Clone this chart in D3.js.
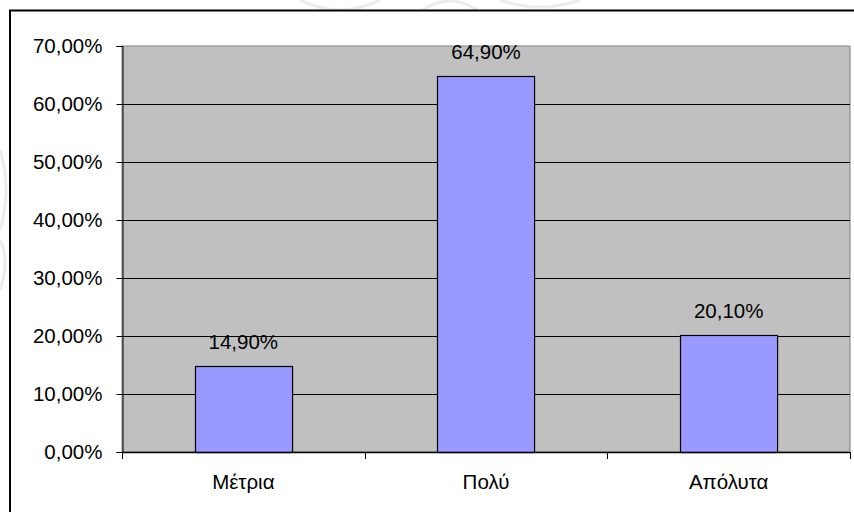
<!DOCTYPE html>
<html>
<head>
<meta charset="utf-8">
<script src="https://cdn.jsdelivr.net/npm/d3@7"></script>
<style>
  body { margin: 0; background: #fff; }
  text { font-family: "Liberation Sans", Arial, sans-serif; fill: #000; }
</style>
</head>
<body>
<div id="draw"></div>
<script>
// chart data
const categories = ["Μέτρια", "Πολύ", "Απόλυτα"];
const values = [14.9, 64.9, 20.1];
const yTicks = [0, 10, 20, 30, 40, 50, 60, 70];

const W = 854, H = 512;
const plot = { left: 122, top: 46, right: 850, bottom: 452 };
const fontSize = "20.5px";

// greek style number format: comma as decimal mark
const fmt = v => d3.format(".2f")(v).replace(".", ",") + "%";

const svg = d3.select("#draw").append("svg")
    .attr("width", W)
    .attr("height", H);

// faint watermark strokes behind the chart
const wm = svg.append("g").attr("fill", "none").attr("stroke", "#ececec").attr("stroke-width", 3);
wm.append("path").attr("d", "M300,0 Q340,20 380,0");
wm.append("path").attr("d", "M420,12 Q450,-10 480,12");
wm.append("path").attr("d", "M500,0 Q540,14 580,0");
wm.append("path").attr("d", "M0,150 Q12,190 0,230");
wm.append("path").attr("d", "M0,240 Q10,260 0,290");

// outer frame
svg.append("rect")
    .attr("x", 10).attr("y", 10.5)
    .attr("width", W + 10).attr("height", H + 10)
    .attr("fill", "#fff")
    .attr("stroke", "#000")
    .attr("stroke-width", 2);

const x = d3.scaleBand()
    .domain(categories)
    .range([plot.left, plot.right])
    .paddingInner(0.6)
    .paddingOuter(0.3);

const y = d3.scaleLinear()
    .domain([0, 70])
    .range([plot.bottom, plot.top]);

// plot background
svg.append("rect")
    .attr("x", plot.left).attr("y", plot.top)
    .attr("width", plot.right - plot.left)
    .attr("height", plot.bottom - plot.top)
    .attr("fill", "#c0c0c0")
    .attr("stroke", "#808080")
    .attr("stroke-width", 1);

// gridlines
svg.append("g")
    .selectAll("line")
    .data(yTicks.filter(d => d > 0 && d < 70))
    .join("line")
    .attr("x1", plot.left).attr("x2", plot.right)
    .attr("y1", d => Math.round(y(d)) + 0.5)
    .attr("y2", d => Math.round(y(d)) + 0.5)
    .attr("stroke", "#000")
    .attr("stroke-width", 1);

// bars
svg.append("g")
    .selectAll("rect")
    .data(values)
    .join("rect")
    .attr("x", (d, i) => Math.round(x(categories[i])) + 0.5)
    .attr("y", d => Math.round(y(d)) + 0.5)
    .attr("width", x.bandwidth())
    .attr("height", d => y(0) - Math.round(y(d)))
    .attr("fill", "#9999ff")
    .attr("stroke", "#000")
    .attr("stroke-width", 1.2);

// value labels
svg.append("g")
    .selectAll("text")
    .data(values)
    .join("text")
    .attr("x", (d, i) => x(categories[i]) + x.bandwidth() / 2)
    .attr("y", d => y(d) - 17)
    .attr("text-anchor", "middle")
    .style("font-size", fontSize)
    .text(d => fmt(d));

// y axis
const yAxis = svg.append("g")
    .attr("transform", `translate(${plot.left + 0.5},0)`)
    .call(d3.axisLeft(y).tickValues(yTicks).tickSize(6).tickPadding(14).tickFormat(fmt));
yAxis.select(".domain").attr("stroke", "#000");
yAxis.selectAll(".tick line").attr("stroke", "#000");
yAxis.selectAll(".tick text")
    .style("font-size", fontSize)
    .style("font-family", "'Liberation Sans', Arial, sans-serif")
    .attr("fill", "#000");

// x axis: line and ticks at category boundaries
const xBounds = d3.range(categories.length + 1).map(i => plot.left + i * x.step());
svg.append("line")
    .attr("x1", plot.left).attr("x2", plot.right)
    .attr("y1", plot.bottom + 0.5).attr("y2", plot.bottom + 0.5)
    .attr("stroke", "#000")
    .attr("stroke-width", 1.5);
svg.append("g")
    .selectAll("line")
    .data(xBounds)
    .join("line")
    .attr("x1", d => Math.round(d) + 0.5).attr("x2", d => Math.round(d) + 0.5)
    .attr("y1", plot.bottom).attr("y2", plot.bottom + 7)
    .attr("stroke", "#000");

svg.append("g")
    .selectAll("text")
    .data(categories)
    .join("text")
    .attr("x", d => x(d) + x.bandwidth() / 2)
    .attr("y", 489)
    .attr("text-anchor", "middle")
    .style("font-size", fontSize)
    .text(d => d);
</script>
</body>
</html>
